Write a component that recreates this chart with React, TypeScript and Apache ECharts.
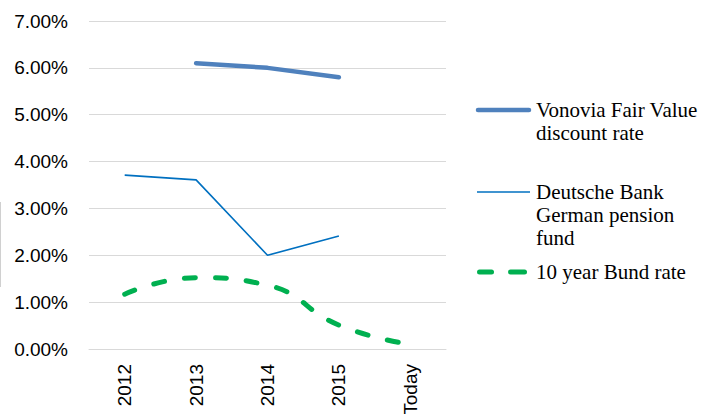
import React, { useEffect, useRef } from "react";
import * as echarts from "echarts";

const categories = ["2012", "2013", "2014", "2015", "Today"];
const vonovia = [null, 6.1, 6.0, 5.8, null];
const deutscheBank = [3.71, 3.61, 2.0, 2.41, null];
const bund = [1.17, 1.52, 1.36, 0.51, 0.1];
const yTicks = { min: 0, max: 7, interval: 1 };

const NAME_V = "Vonovia Fair Value\ndiscount rate";
const NAME_D = "Deutsche Bank\nGerman pension\nfund";
const NAME_B = "10 year Bund rate";

const COLOR_V = "#4f81bd";
const COLOR_D = "#0070c0";
const COLOR_B = "#00b050";

const LH = 23;
const LEG_FONT = "21px 'Liberation Serif'";

export default function App() {
  const ref = useRef<HTMLDivElement>(null);
  useEffect(() => {
    if (!ref.current) return;
    const chart = echarts.init(ref.current, undefined, { renderer: "svg" });
    const legendText = (text: string, yFirst: number) => ({
      type: "text",
      x: 536,
      y: yFirst - LH / 2,
      style: {
        text,
        font: LEG_FONT,
        fill: "#000",
        lineHeight: LH,
        verticalAlign: "top",
        align: "left",
      },
    });
    chart.setOption({
      animation: false,
      backgroundColor: "#fff",
      grid: {
        left: 89,
        right: 256,
        top: 21,
        bottom: 65,
        containLabel: false,
        outerBoundsMode: "none",
      },
      xAxis: {
        type: "category",
        data: categories,
        boundaryGap: true,
        axisLine: { lineStyle: { color: "#d9d9d9", width: 1 } },
        axisTick: { show: false },
        axisLabel: {
          rotate: 90,
          margin: 15,
          fontFamily: "Liberation Sans",
          fontSize: 19,
          color: "#000",
        },
      },
      yAxis: {
        type: "value",
        min: yTicks.min,
        max: yTicks.max,
        interval: yTicks.interval,
        axisLine: { show: false },
        axisTick: { show: false },
        splitLine: { lineStyle: { color: "#d9d9d9", width: 1 } },
        axisLabel: {
          margin: 21,
          fontFamily: "Liberation Sans",
          fontSize: 19,
          color: "#000",
          formatter: (v: number) => v.toFixed(2) + "%",
        },
      },
      series: [
        {
          name: NAME_V,
          type: "line",
          data: vonovia,
          symbol: "none",
          connectNulls: false,
          lineStyle: { color: COLOR_V, width: 4.5, cap: "round" },
          itemStyle: { color: COLOR_V },
        },
        {
          name: NAME_D,
          type: "line",
          data: deutscheBank,
          symbol: "none",
          lineStyle: { color: COLOR_D, width: 1.6 },
          itemStyle: { color: COLOR_D },
        },
        {
          name: NAME_B,
          type: "line",
          data: bund,
          symbol: "none",
          smooth: 0.5,
          lineStyle: { color: COLOR_B, width: 5, type: [11, 20], cap: "round" },
          itemStyle: { color: COLOR_B },
        },
      ],
      graphic: [
        {
          type: "line",
          shape: { x1: 0.5, y1: 202, x2: 0.5, y2: 287 },
          style: { stroke: "#d0d0d0", lineWidth: 1 },
        },
        {
          type: "line",
          shape: { x1: 478, y1: 110, x2: 529, y2: 110 },
          style: { stroke: COLOR_V, lineWidth: 4.5, lineCap: "round" },
        },
        legendText(NAME_V, 110),
        {
          type: "line",
          shape: { x1: 477, y1: 192, x2: 530, y2: 192 },
          style: { stroke: COLOR_D, lineWidth: 1.6 },
        },
        legendText(NAME_D, 192),
        {
          type: "line",
          shape: { x1: 479.5, y1: 272, x2: 491.5, y2: 272 },
          style: { stroke: COLOR_B, lineWidth: 5, lineCap: "round" },
        },
        {
          type: "line",
          shape: { x1: 510.5, y1: 272, x2: 524.5, y2: 272 },
          style: { stroke: COLOR_B, lineWidth: 5, lineCap: "round" },
        },
        legendText(NAME_B, 272),
      ],
    });
    return () => chart.dispose();
  }, []);
  return <div ref={ref} style={{ width: 702, height: 414, position: "absolute", left: 0, top: 0 }} />;
}
